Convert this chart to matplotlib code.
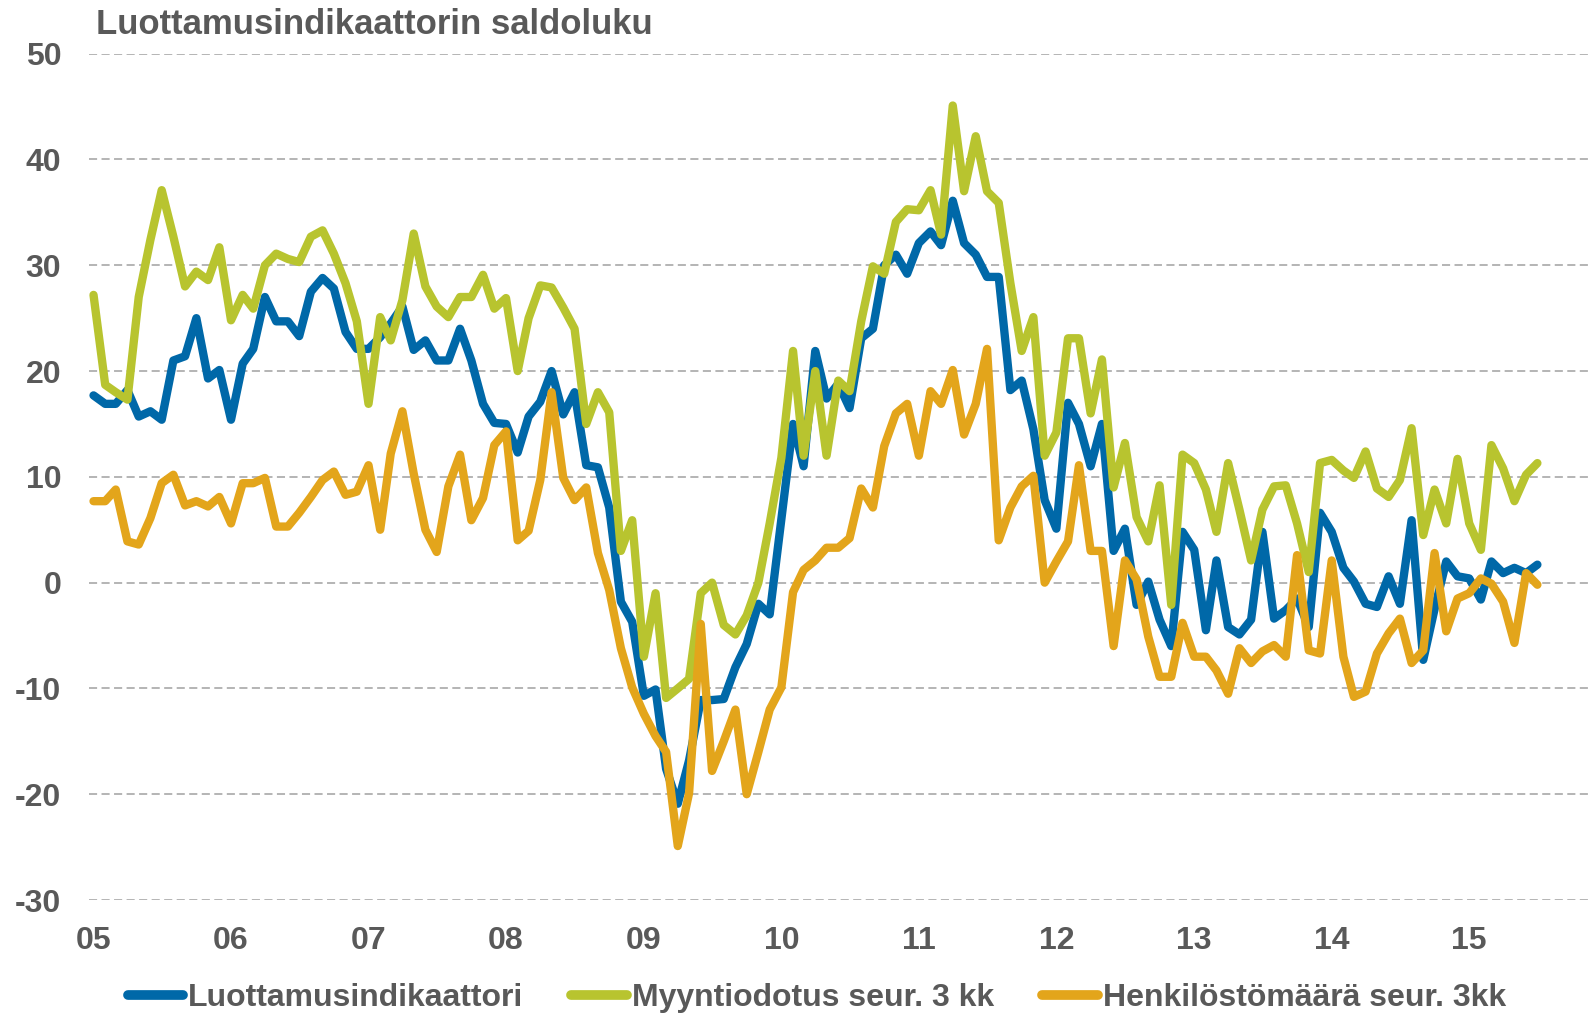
import matplotlib
matplotlib.use("Agg")
import matplotlib.pyplot as plt
import matplotlib.dates as mdates
import pandas as pd

# monthly balance figures, Jan 2005 - Jul 2015
luottamus = [
    17.7, 16.9, 16.9, 18.2, 15.7, 16.2, 15.4, 21.0, 21.4, 25.0, 19.3, 20.1,
    15.4, 20.7, 22.1, 27.0, 24.7, 24.7, 23.3, 27.5, 28.8, 27.8, 23.7, 22.1,
    22.1, 23.2, 24.5, 26.1, 22.0, 22.9, 21.0, 21.0, 24.0, 21.0, 16.9, 15.1,
    15.0, 12.3, 15.7, 17.1, 20.0, 15.9, 18.0, 11.1, 10.9, 7.1, -1.8, -3.7,
    -10.7, -10.1, -17.6, -20.9, -16.8, -11.1, -11.1, -11.0, -8.0, -5.8, -2.0, -3.0,
    6.0, 15.0, 11.0, 21.9, 17.4, 18.8, 16.5, 23.1, 24.0, 30.0, 31.0, 29.2,
    32.1, 33.2, 31.9, 36.1, 32.1, 31.0, 28.9, 28.9, 18.2, 19.1, 14.5, 7.8,
    5.1, 17.0, 15.0, 11.0, 15.0, 3.0, 5.1, -2.1, 0.1, -3.5, -6.0, 4.8,
    3.1, -4.5, 2.1, -4.2, -4.9, -3.5, 4.8, -3.4, -2.6, -1.5, -4.2, 6.6,
    4.8, 1.4, 0.1, -2.0, -2.3, 0.6, -2.0, 5.9, -7.3, -2.5, 2.0, 0.6,
    0.4, -1.6, 2.0, 0.9, 1.4, 0.9, 1.7,
]
myynti = [
    27.2, 18.7, 18.0, 17.3, 27.0, 32.4, 37.1, 32.7, 28.0, 29.4, 28.6, 31.7,
    24.8, 27.2, 25.9, 30.0, 31.1, 30.6, 30.3, 32.7, 33.3, 31.1, 28.3, 24.7,
    16.9, 25.1, 22.9, 26.7, 33.0, 28.0, 26.1, 25.1, 27.0, 27.0, 29.1, 25.9,
    26.9, 20.0, 25.0, 28.1, 27.9, 26.0, 24.0, 15.0, 18.0, 16.1, 3.0, 5.9,
    -7.0, -1.0, -10.9, -10.0, -9.1, -1.0, 0.0, -4.0, -4.9, -3.1, 0.0, 5.6,
    11.8, 21.9, 12.0, 20.0, 12.0, 19.1, 18.1, 24.7, 29.9, 29.2, 34.1, 35.3,
    35.2, 37.1, 32.9, 45.1, 37.0, 42.2, 37.0, 35.9, 28.3, 21.9, 25.1, 12.0,
    14.2, 23.1, 23.1, 16.0, 21.1, 9.0, 13.2, 6.2, 3.9, 9.2, -2.1, 12.1,
    11.3, 8.8, 4.8, 11.3, 6.9, 2.1, 6.9, 9.1, 9.2, 5.6, 1.0, 11.3,
    11.6, 10.6, 9.9, 12.4, 8.9, 8.1, 9.7, 14.6, 4.5, 8.8, 5.6, 11.7,
    5.6, 3.1, 13.0, 10.8, 7.7, 10.2, 11.3,
]
henkilosto = [
    7.7, 7.7, 8.8, 3.9, 3.6, 6.1, 9.4, 10.2, 7.3, 7.7, 7.2, 8.1,
    5.6, 9.4, 9.4, 9.9, 5.3, 5.3, 6.6, 8.1, 9.7, 10.5, 8.3, 8.6,
    11.1, 5.0, 12.2, 16.2, 10.3, 5.0, 2.9, 9.1, 12.1, 5.9, 8.0, 13.0,
    14.3, 4.0, 4.9, 9.7, 18.0, 9.9, 7.8, 9.0, 2.8, -0.7, -6.2, -9.9,
    -12.4, -14.5, -16.0, -24.9, -19.9, -3.9, -17.8, -15.0, -12.0, -20.0, -16.0, -12.0,
    -9.9, -0.9, 1.2, 2.1, 3.3, 3.3, 4.2, 8.9, 7.1, 12.9, 16.0, 16.9,
    12.0, 18.1, 16.9, 20.1, 14.0, 16.9, 22.1, 4.0, 7.1, 9.1, 10.1, 0.0,
    2.0, 3.9, 11.1, 3.0, 3.0, -6.0, 2.1, 0.3, -5.1, -8.9, -8.9, -3.8,
    -7.0, -7.0, -8.3, -10.5, -6.2, -7.6, -6.5, -5.9, -7.0, 2.6, -6.4, -6.7,
    2.1, -7.0, -10.8, -10.3, -6.7, -4.8, -3.4, -7.6, -6.4, 2.8, -4.6, -1.5,
    -1.0, 0.4, -0.1, -1.8, -5.7, 0.9, -0.2,
]
labels = ["Luottamusindikaattori", "Myyntiodotus seur. 3 kk", "Henkilöstömäärä seur. 3kk"]
colors = ["#0068A8", "#B8C42F", "#E3A51B"]
gray = "#595959"

dates = pd.date_range("2005-01-01", periods=len(luottamus), freq="MS")

plt.rcParams["font.family"] = ["Liberation Sans", "DejaVu Sans"]
plt.rcParams["font.weight"] = "bold"
plt.rcParams["axes.unicode_minus"] = False

fig = plt.figure(figsize=(15.89, 10.16), dpi=100)
ax = fig.add_axes([89 / 1589, 1 - 900 / 1016, 1 - 89 / 1589, (900 - 53.7) / 1016])

for y in range(-30, 51, 10):
    ax.axhline(y, color="#A0A0A0", lw=1.1, ls=(0, (5.3, 2.9)), zorder=0)

lines = []
for vals, c, lab in zip([luottamus, myynti, henkilosto], colors, labels):
    ln, = ax.plot(dates, vals, color=c, lw=6, label=lab,
                  solid_joinstyle="round", solid_capstyle="round")
    lines.append(ln)

ax.set_ylim(-30, 50)
ax.set_yticks(range(-30, 51, 10))
ax.set_xlim(pd.Timestamp("2004-12-20"), pd.Timestamp("2015-11-15"))
ax.xaxis.set_major_locator(mdates.YearLocator())
ax.xaxis.set_major_formatter(mdates.DateFormatter("%y"))
ax.tick_params(axis="both", length=0, labelsize=23, labelcolor=gray)
ax.tick_params(axis="y", pad=20)
ax.tick_params(axis="x", pad=19)
for s in ax.spines.values():
    s.set_visible(False)

fig.text(96 / 1589, 1 - 25 / 1016, "Luottamusindikaattorin saldoluku",
         ha="left", va="center", fontsize=25, color=gray, fontweight="bold")

leg = fig.legend(lines, labels, loc="center", bbox_to_anchor=(0.514, 0.018),
                 ncol=3, frameon=False, fontsize=23, handlelength=1.75,
                 handletextpad=0.15, columnspacing=1.5, borderpad=0)
for t in leg.get_texts():
    t.set_color(gray)
for h in leg.legend_handles:
    h.set_linewidth(7)

fig.savefig("out.png", dpi=100)
